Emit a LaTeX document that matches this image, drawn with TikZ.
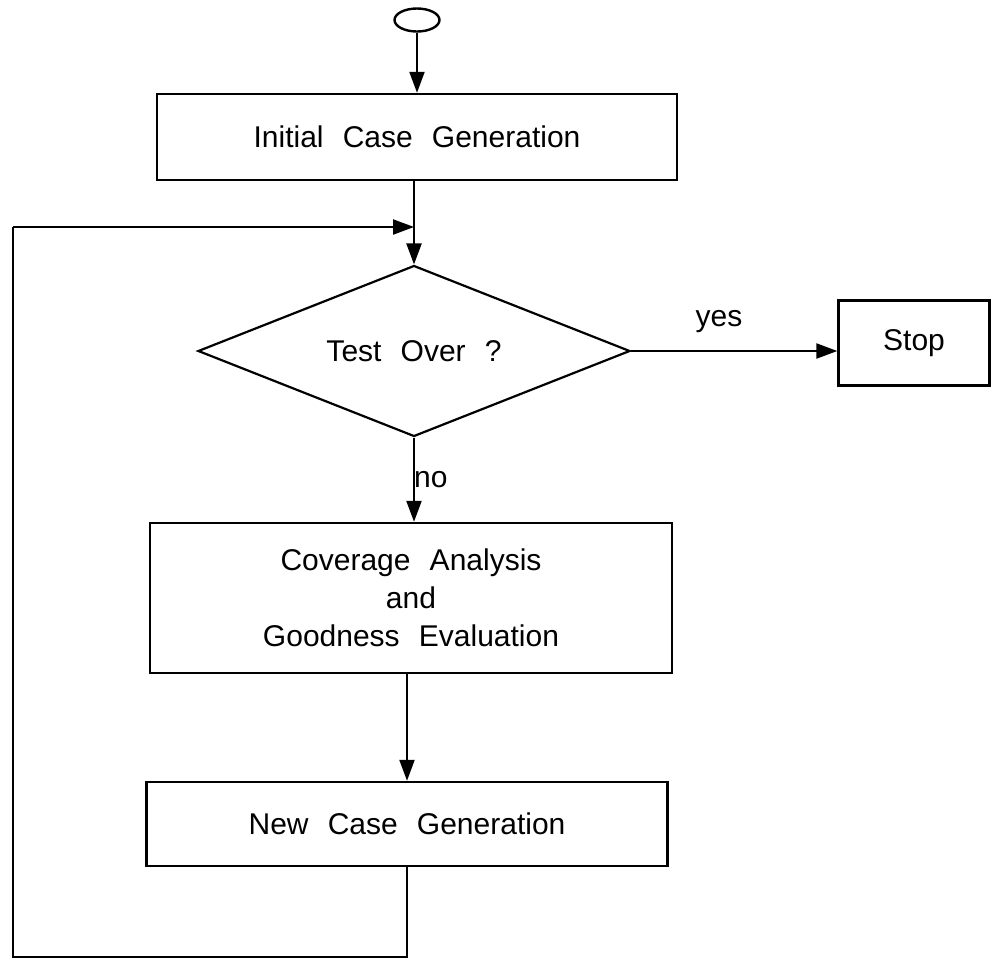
\documentclass[tikz,border=0pt]{standalone}
\usepackage{fontspec}
\setmainfont{Liberation Sans}[WordSpace=2.3]
\usetikzlibrary{shapes.geometric,arrows.meta}
\begin{document}
\begin{tikzpicture}[x=1pt,y=-1pt,
  every node/.style={font=\fontsize{30}{38}\selectfont},
  boxnode/.style={draw,line width=2.4pt,rectangle,inner sep=0pt,align=center},
  decnode/.style={draw,line width=2.2pt,diamond,shape aspect=2.53,inner sep=0pt},
  termnode/.style={draw,line width=2.4pt,ellipse,inner sep=0pt,minimum width=45pt,minimum height=23pt},
  lbl/.style={inner sep=0pt},
  conn/.style={line width=2.2pt},
  arr/.style={line width=2.2pt,-{Triangle[length=21pt,width=15pt]}}]
\useasboundingbox (0,0) rectangle (993,962);
\node[termnode] (start) at (417,20) {};
\node[boxnode,minimum width=520pt,minimum height=86pt] (init) at (417,137) {Initial Case Generation};
\node[decnode,minimum width=432pt,minimum height=171pt] (dia) at (414,351) {Test Over ?};
\node[boxnode,minimum width=151pt,minimum height=85pt] (stop) at (914,343) {Stop};
\node[boxnode,minimum width=522pt,minimum height=150pt] (cov) at (411,598) {Coverage Analysis\\and\\Goodness Evaluation};
\node[boxnode,minimum width=521pt,minimum height=84pt] (newc) at (407,824) {New Case Generation};
\node[lbl] (yes) at (719,322) {yes};
\node[lbl,anchor=west] (no) at (414,480) {no};
\coordinate (lb) at (13,957);
\coordinate (lt) at (13,227);
\draw[arr] (start.south) -- (start.south |- init.north);
\draw[arr] (init.south -| dia.north) -- (dia.north);
\draw[arr] (dia.east) -- (dia.east -| stop.west);
\draw[arr] (dia.south) -- (dia.south |- cov.north);
\draw[arr] (cov.south -| newc.north) -- (newc.north);
\draw[conn] (newc.south) -- (newc.south |- lb) -- (lb) -- (lt);
\draw[arr] (lt) -- (lt -| dia.north);
\end{tikzpicture}
\end{document}
